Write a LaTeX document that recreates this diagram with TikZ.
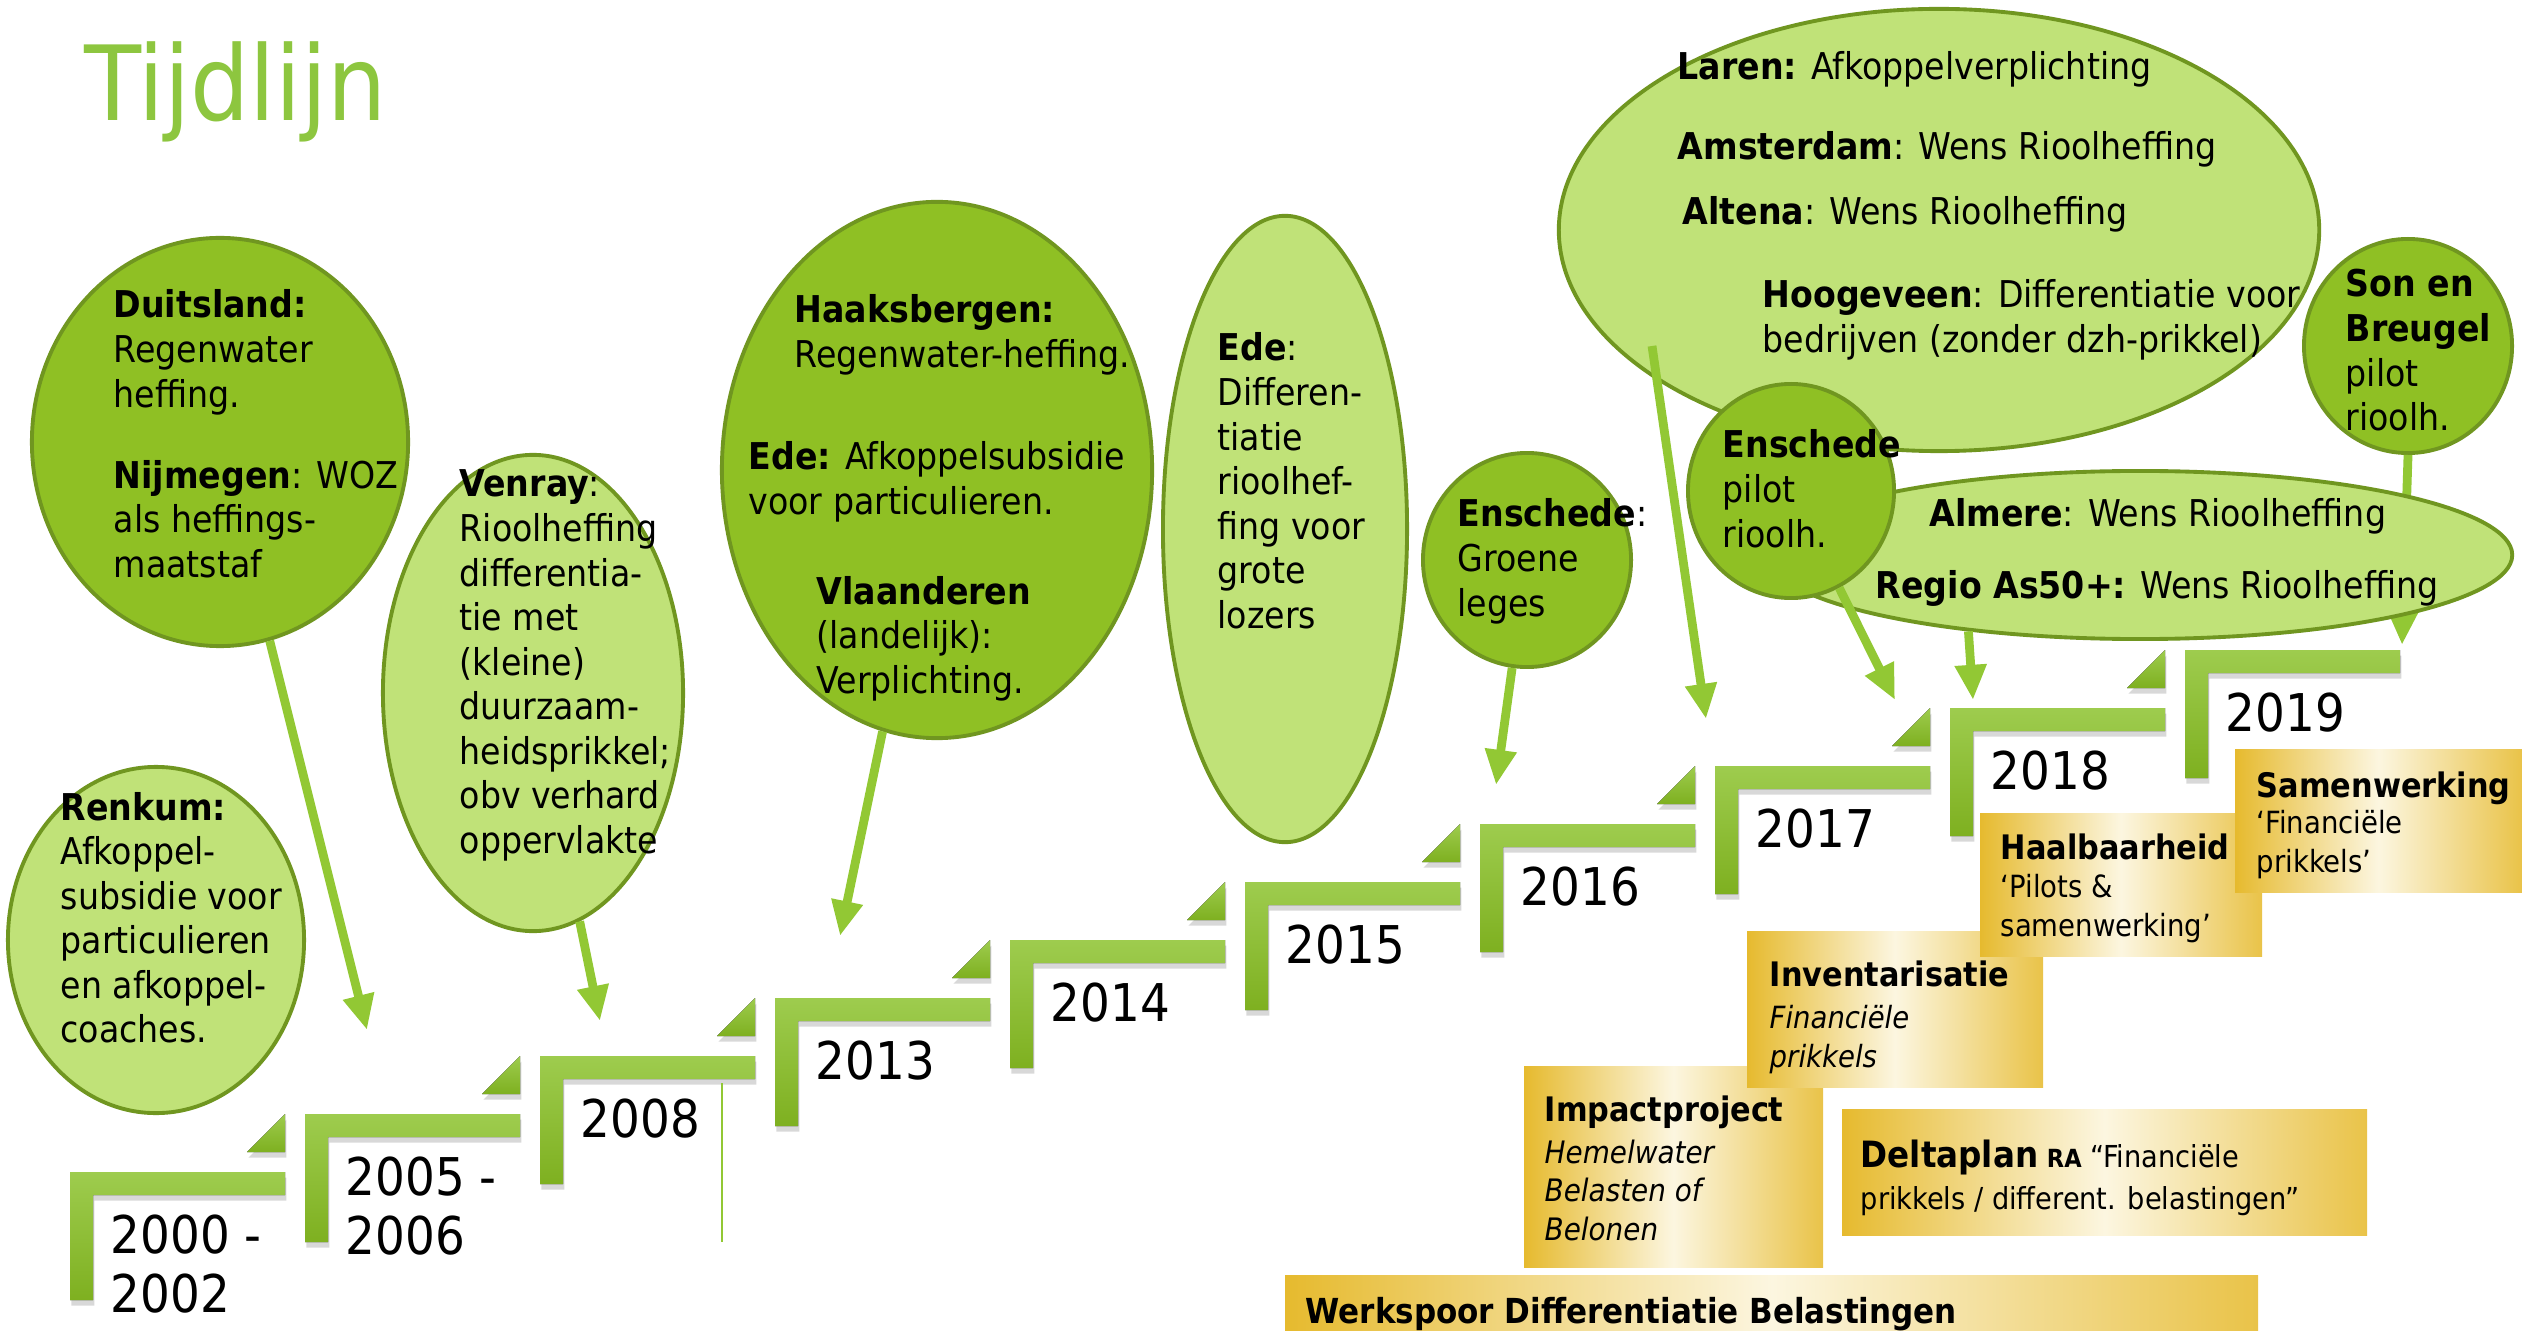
\documentclass[tikz,border=0pt]{standalone}
\usepackage{fontspec}
\setmainfont{DejaVu Sans Condensed}
\usetikzlibrary{shapes.geometric,arrows.meta,shadows}
\definecolor{dk}{RGB}{143,192,36}
\definecolor{lt}{RGB}{192,226,120}
\definecolor{outl}{RGB}{112,150,32}
\definecolor{arrg}{RGB}{146,200,52}
\definecolor{bartop}{RGB}{158,204,78}
\definecolor{barbot}{RGB}{126,176,32}
\definecolor{titleg}{RGB}{141,198,63}
\definecolor{gold}{RGB}{230,186,46}
\definecolor{cream}{RGB}{252,246,224}
\newcommand\tb[1]{\begin{tabular}[t]{@{}l@{}}#1\end{tabular}}
\newcommand\fbody{\fontsize{10.5}{12.66}\selectfont}
\newcommand\fyear{\fontsize{14.8}{16.8}\selectfont}
\newcommand\fhead{\fontsize{9.6}{12}\selectfont\bfseries}
\newcommand\fsub{\fontsize{8.7}{11.3}\selectfont}
\tikzset{
  txt/.style={anchor=base west, inner sep=0pt, font=\fbody},
  ell/.style={ellipse, draw=outl, line width=1.1pt, inner sep=0pt},
  dkell/.style={ell, fill=dk},
  ltell/.style={ell, fill=lt},
  arr/.style={draw=arrg, line width=2.5pt, -{Triangle[width=8.5pt,length=10pt]}},
  bar/.style={top color=bartop, bottom color=barbot,
    drop shadow={shadow xshift=0.4pt, shadow yshift=-1.6pt, opacity=0.3}},
  goldbox/.style={left color=gold, right color=gold!85!cream, middle color=cream},
  yrtxt/.style={anchor=base west, inner sep=0pt, font=\fyear},
  hd/.style={anchor=base west, inner sep=0pt, font=\fhead},
  sb/.style={anchor=base west, inner sep=0pt, font=\fsub},
}
\begin{document}
\begin{tikzpicture}[x=0.01cm, y=-0.01cm]
\useasboundingbox (0,0) rectangle (2522,1331);
\fill[white] (0,0) rectangle (2522,1331);

% title
\node[anchor=base west, inner sep=0pt, text=titleg, font=\fontsize{29.5}{32}\selectfont] (title) at (84,121) {Tijdlijn};

% steps
\foreach \i/\t in {0/{2000 -\\2002},1/{2005 -\\2006},2/2008,3/2013,4/2014,5/2015,6/2016,7/2017,8/2018,9/2019}{
  \pgfmathsetmacro\L{70+235*\i}
  \pgfmathsetmacro\T{1172-58*\i}
  \fill[bar] (\L,\T) -- ++(215,0) -- ++(0,23) -- ++(-192,0) -- ++(0,105) -- ++(-23,0) -- cycle;
  \ifnum\i>0
    \fill[bar] (\L-20,\T) -- (\L-20,\T+38) -- (\L-58,\T+38) -- cycle;
  \fi
  \node[yrtxt] (yr\i) at (\L+40,\T+81) {\tb{\t}};
}
\draw[arrg, line width=0.7pt] (722,1083) -- (722,1242);

% ellipses and their texts
\node[ltell, minimum width=2.96cm, minimum height=3.46cm] (renkum) at (156,940) {};
\node[txt] (renkumt) at (60,820) {\tb{\textbf{Renkum:}\\Afkoppel-\\subsidie voor\\particulieren\\en afkoppel-\\coaches.}};

\node[dkell, minimum width=3.76cm, minimum height=4.08cm] (duits) at (220,442) {};
\node[txt] (duitst) at (113,318) {\tb{\textbf{Duitsland:}\\Regenwater\\heffing.\\[10.4pt]\textbf{Nijmegen}: WOZ\\als heffings-\\maatstaf}};

\node[ltell, minimum width=3.0cm, minimum height=4.76cm] (venray) at (533,693) {};
\node[txt] (venrayt) at (459,497) {\tb{\textbf{Venray}:\\Rioolheffing\\differentia-\\tie met\\(kleine)\\duurzaam-\\heidsprikkel;\\obv verhard\\oppervlakte}};

\node[dkell, minimum width=4.30cm, minimum height=5.36cm] (haaks) at (937,470) {};
\node[txt] (haakst) at (794,323) {\tb{\textbf{Haaksbergen:}\\Regenwater-heffing.}};
\node[txt] (edeat) at (748,470) {\tb{\textbf{Ede:} Afkoppelsubsidie\\voor particulieren.}};
\node[txt] (vlaant) at (816,604) {\tb{\textbf{Vlaanderen}\\(landelijk):\\Verplichting.}};

\node[ltell, minimum width=2.44cm, minimum height=6.26cm] (ede) at (1285,529) {};
\node[txt] (edet) at (1217,361) {\tb{\textbf{Ede}:\\Differen-\\tiatie\\rioolhef-\\fing voor\\grote\\lozers}};

\node[dkell, minimum width=2.08cm, minimum height=2.14cm] (ensgr) at (1527,560) {};
\node[txt] (ensgrt) at (1457,527) {\tb{\textbf{Enschede}:\\Groene\\leges}};

\node[ltell, minimum width=7.60cm, minimum height=4.42cm] (laren) at (1939,230) {};
\node[txt] (larent) at (1677,80) {\textbf{Laren:} Afkoppelverplichting};
\node[txt] (amst) at (1677,160) {\textbf{Amsterdam}: Wens Rioolheffing};
\node[txt] (altt) at (1682,225) {\textbf{Altena}: Wens Rioolheffing};
\node[txt] (hoogt) at (1762,308) {\tb{\textbf{Hoogeveen}: Differentiatie voor\\bedrijven (zonder dzh-prikkel)}};
\coordinate (l0) at (1652,346);
\coordinate (tL) at (1706,719);
\draw[arr] (l0) -- (tL);

\node[dkell, minimum width=2.08cm, minimum height=2.14cm] (son) at (2408,346) {};
\node[txt] (sont) at (2345,297) {\tb{\textbf{Son en}\\\textbf{Breugel}\\pilot\\rioolh.}};
\coordinate (tS) at (2402,645);
\draw[arr] (son.south) -- (tS);

\node[ltell, minimum width=7.44cm, minimum height=1.68cm] (almere) at (2140,555) {};
\node[txt] (almt) at (1929,527) {\textbf{Almere}: Wens Rioolheffing};
\node[txt] (regt) at (1875,598) {\textbf{Regio As50+:} Wens Rioolheffing};
\coordinate (tA) at (1973,700);
\draw[arr] (almere.204.2) -- (tA);

\node[dkell, minimum width=2.06cm, minimum height=2.14cm] (enspil) at (1791,491) {};
\node[txt] (enspilt) at (1722,458) {\tb{\textbf{Enschede}\\pilot\\rioolh.}};

% arrows
\coordinate (t1) at (367,1030);
\coordinate (tV) at (600,1021);
\coordinate (tH) at (840,936);
\coordinate (tG) at (1496,785);
\coordinate (tP) at (1895,700);
\draw[arr] (duits) -- (t1);
\draw[arr] (venray) -- (tV);
\draw[arr] (haaks) -- (tH);
\draw[arr] (ensgr) -- (tG);
\draw[arr] (enspil) -- (tP);

% gold boxes
\path[goldbox] (1285,1275) rectangle (2258,1331);
\node[hd, font=\fontsize{9.8}{12}\selectfont\bfseries] (werk) at (1305,1323) {Werkspoor Differentiatie Belastingen};

\path[goldbox] (1524,1066) rectangle (1823,1267);
\node[hd] (imp) at (1544,1121) {Impactproject};
\node[sb, font=\fontsize{8.8}{11}\selectfont\itshape] (impt) at (1544,1163) {\tb{Hemelwater\\Belasten of\\Belonen}};

\path[goldbox] (1842,1109) rectangle (2367,1235);
\node[sb, font=\fontsize{8.6}{12.2}\selectfont] (delta) at (1860,1167) {\tb{{\fontsize{10.3}{12.2}\selectfont\bfseries Deltaplan} {\fontsize{7.1}{12.2}\selectfont\bfseries RA} “Financiële\\prikkels / different. belastingen”}};

\path[goldbox] (1747,931) rectangle (2043,1087);
\node[hd] (inv) at (1769,986) {Inventarisatie};
\node[sb, font=\fontsize{8.7}{11.2}\selectfont\itshape] (invt) at (1769,1028) {\tb{Financiële\\prikkels}};

\path[goldbox] (1980,813) rectangle (2262,956);
\node[hd] (haal) at (2000,859) {Haalbaarheid};
\node[sb] (haalt) at (2000,897) {\tb{‘Pilots \&\\samenwerking’}};

\path[goldbox] (2235,749) rectangle (2522,892);
\node[hd] (sam) at (2256,797) {Samenwerking};
\node[sb] (samt) at (2256,833) {\tb{‘Financiële\\prikkels’}};
\end{tikzpicture}
\end{document}
